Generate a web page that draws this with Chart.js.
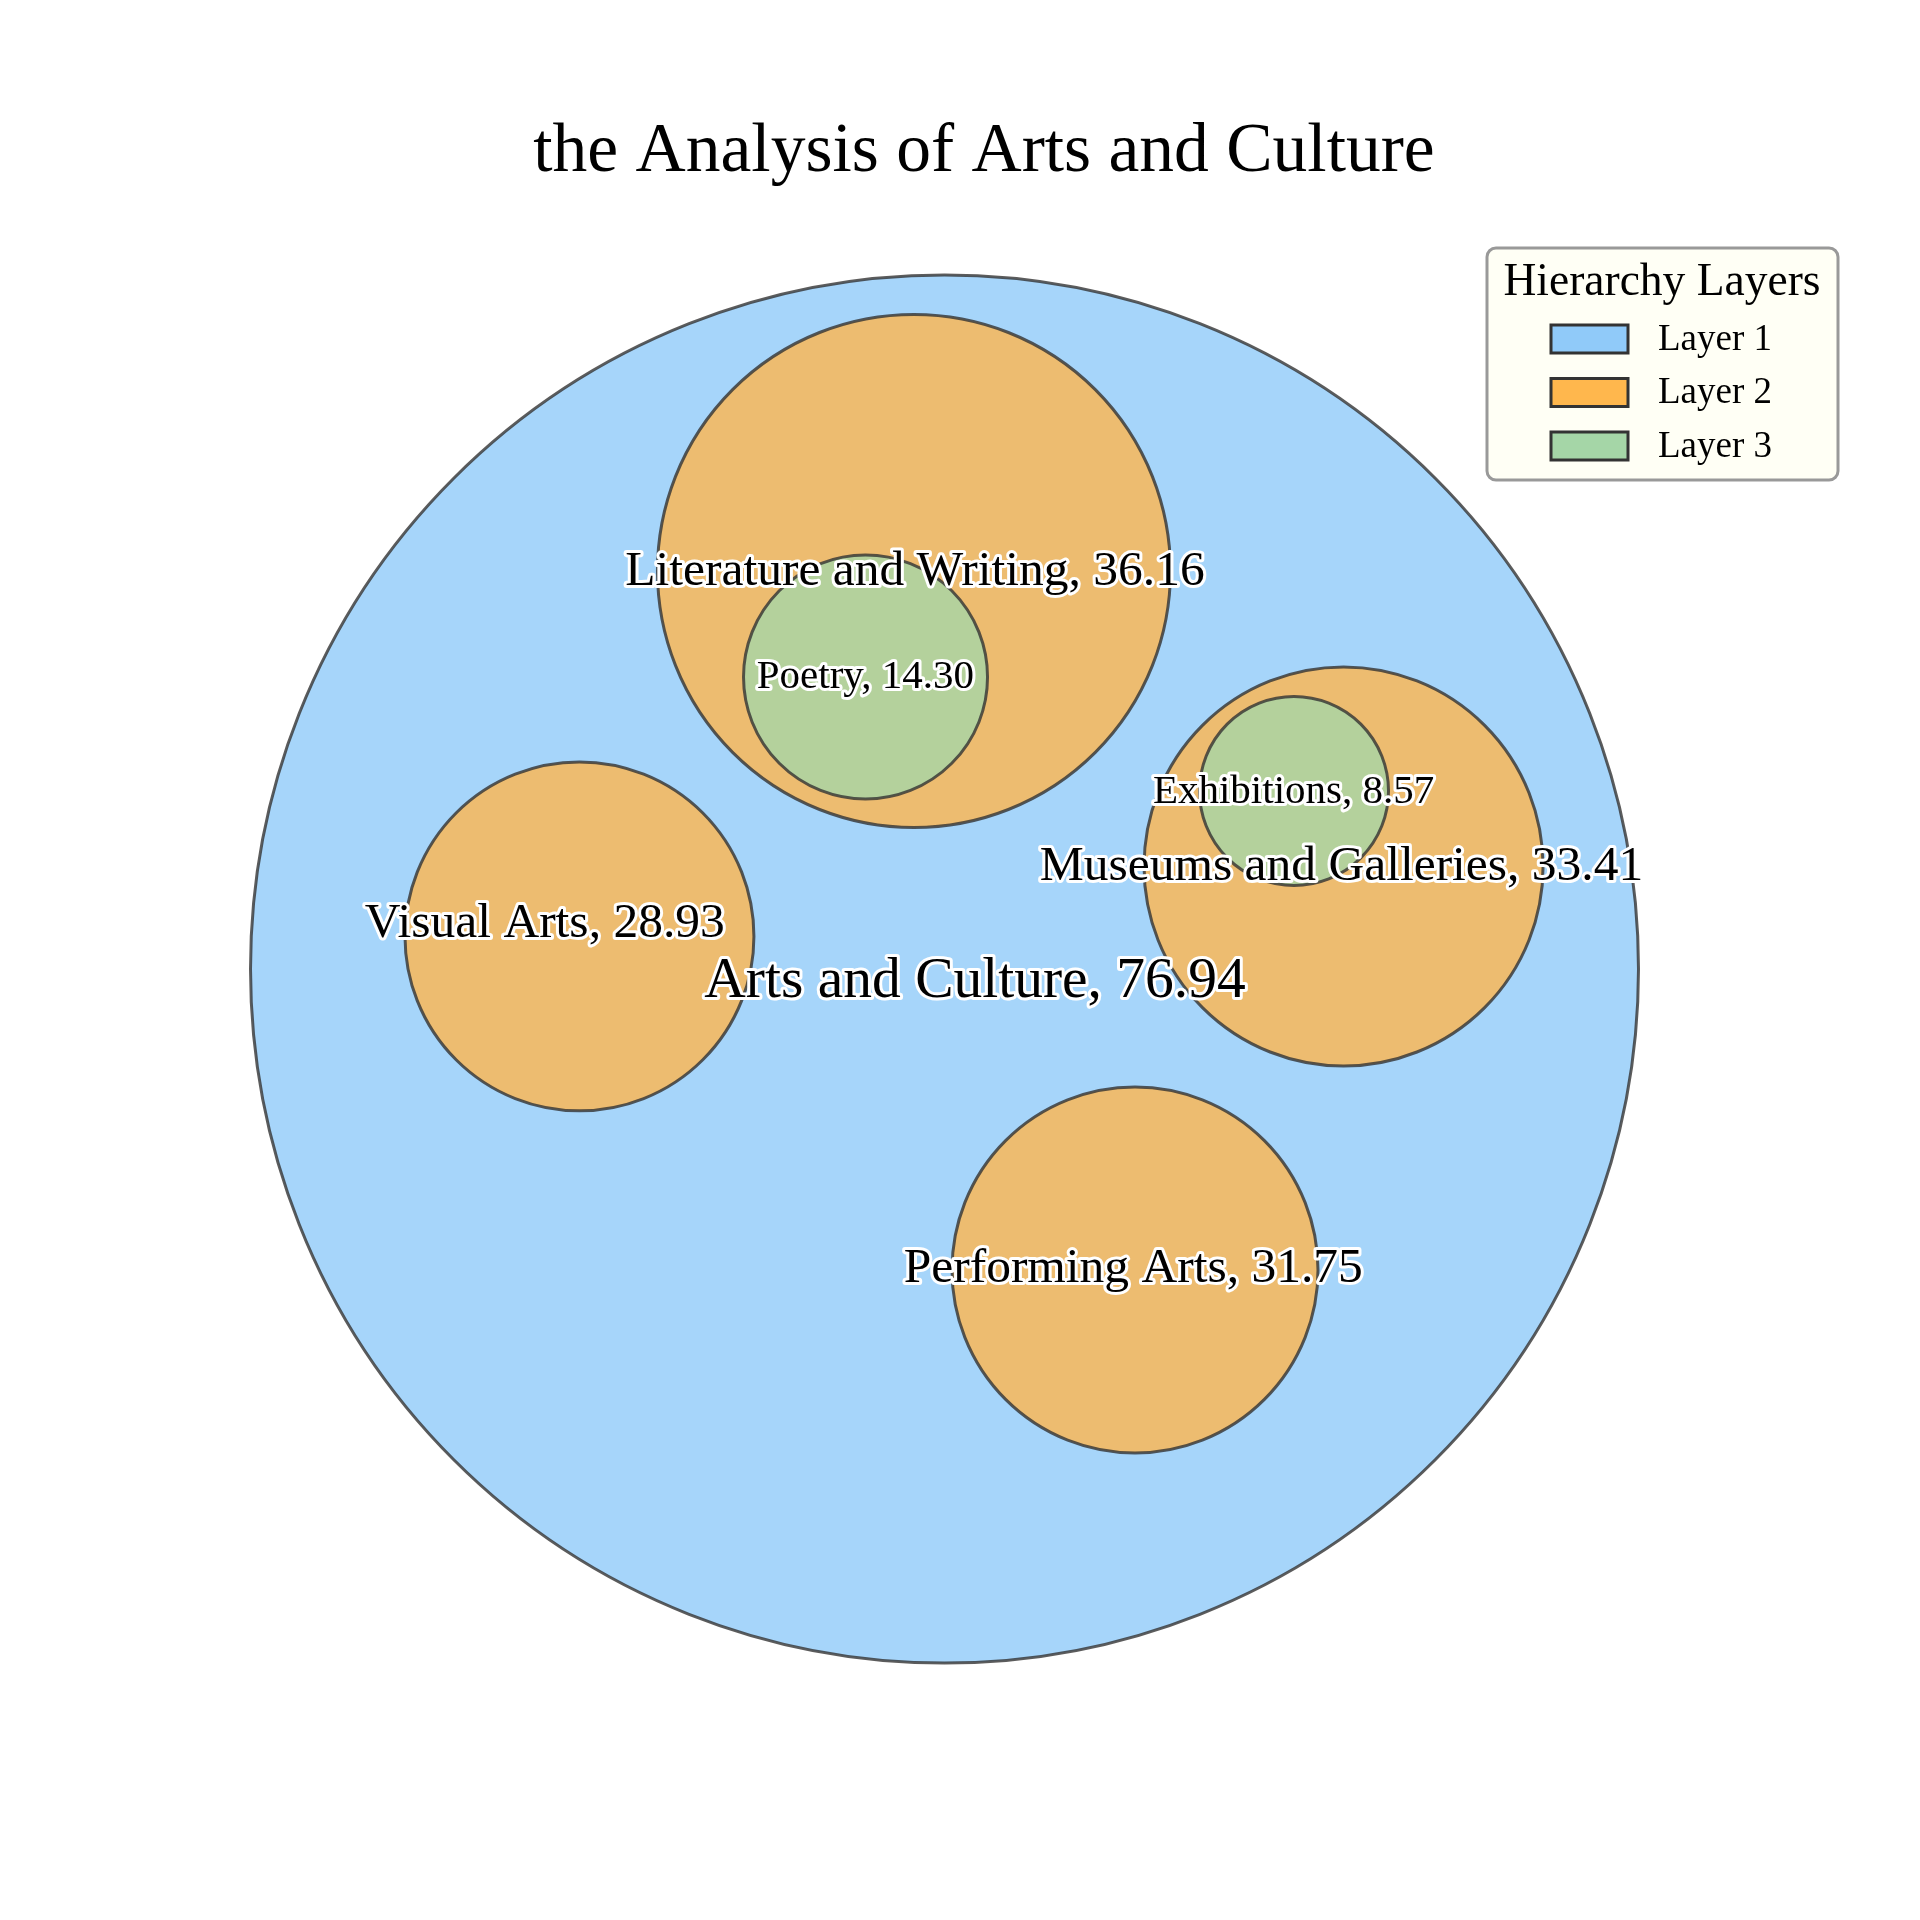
<!DOCTYPE html>
<html>
<head>
<meta charset="utf-8">
<title>the Analysis of Arts and Culture</title>
<script src="https://cdn.jsdelivr.net/npm/chart.js@4/dist/chart.umd.min.js"></script>
<style>
  html, body { margin: 0; padding: 0; background: #ffffff; }
  #wrap { width: 1920px; height: 1920px; }
</style>
</head>
<body>
<div id="wrap"><canvas id="packChart" width="1920" height="1920"></canvas></div>
<script>
// --- data (circle packing, unit = radius of the root circle) ---
const names   = ['Arts and Culture', 'Literature and Writing', 'Visual Arts', 'Museums and Galleries', 'Performing Arts', 'Poetry', 'Exhibitions'];
const values  = [76.94, 36.16, 28.93, 33.41, 31.75, 14.30, 8.57];
const layers  = [1, 2, 2, 2, 2, 3, 3];
const centerX = [0, -0.044, -0.526, 0.575, 0.2745, -0.1138, 0.5036];
const centerY = [0, 0.5735, 0.047, 0.1477, -0.4337, 0.4207, 0.2565];
const radii   = [1, 0.3696, 0.2514, 0.2875, 0.2637, 0.1758, 0.1362];
// where each label sits (same units)
const labelX  = [0.044, -0.0425, -0.576, 0.572, 0.272, -0.114, 0.503];
const labelY  = [-0.0192, 0.5715, 0.0653, 0.1475, -0.4318, 0.4205, 0.255];

const layerNames  = ['Layer 1', 'Layer 2', 'Layer 3'];
const layerColors = ['#90CAF9', '#FFB74D', '#A5D6A7'];
const layerFonts  = [57.5, 49.5, 41];

const SERIF = '"Liberation Serif", "Times New Roman", Times, serif';

function hexA(hex, a) {
    const n = parseInt(hex.slice(1), 16);
    return `rgba(${(n >> 16) & 255}, ${(n >> 8) & 255}, ${n & 255}, ${a})`;
}

// one dataset per layer, deepest layer drawn last (on top)
const datasets = layerNames.map((ln, li) => ({
    label: ln,
    order: 3 - li,
    data: [],
    clip: false,
    backgroundColor: hexA(layerColors[li], 0.8),
    borderColor: 'rgba(51, 51, 51, 0.8)',
    borderWidth: 3,
    hoverBorderWidth: 3
}));

// labels with a white halo, placed through the scales
const labelPlugin = {
    id: 'packLabels',
    afterDatasetsDraw(chart) {
        const { ctx, scales } = chart;
        ctx.save();
        ctx.textAlign = 'center';
        ctx.textBaseline = 'middle';
        ctx.lineJoin = 'round';
        names.forEach((n, i) => {
            const px = scales.x.getPixelForValue(labelX[i]);
            const py = scales.y.getPixelForValue(labelY[i]);
            const txt = `${n}, ${values[i].toFixed(2)}`;
            ctx.font = `${layerFonts[layers[i] - 1]}px ${SERIF}`;
            ctx.strokeStyle = '#ffffff';
            ctx.lineWidth = 6;
            ctx.strokeText(txt, px, py);
            ctx.fillStyle = '#000000';
            ctx.fillText(txt, px, py);
        });
        ctx.restore();
    }
};

// title + legend box
const decorPlugin = {
    id: 'decor',
    afterDraw(chart) {
        const ctx = chart.ctx;
        ctx.save();
        ctx.fillStyle = '#000000';
        ctx.textAlign = 'center';
        ctx.textBaseline = 'alphabetic';
        ctx.font = `69.5px ${SERIF}`;
        ctx.fillText('the Analysis of Arts and Culture', 984, 171);

        // legend
        const bx = 1487, by = 248, bw = 351, bh = 232;
        ctx.beginPath();
        ctx.roundRect(bx, by, bw, bh, 9);
        ctx.fillStyle = '#FFFFF5';
        ctx.fill();
        ctx.lineWidth = 3;
        ctx.strokeStyle = '#999999';
        ctx.stroke();

        ctx.fillStyle = '#000000';
        ctx.font = `45.5px ${SERIF}`;
        ctx.textBaseline = 'middle';
        ctx.fillText('Hierarchy Layers', 1662, 283);

        ctx.textAlign = 'left';
        ctx.font = `37px ${SERIF}`;
        layerNames.forEach((ln, li) => {
            const cy = 339 + li * 53.5;
            ctx.fillStyle = layerColors[li];
            ctx.fillRect(1551, cy - 14, 77, 28);
            ctx.lineWidth = 3;
            ctx.strokeStyle = '#333333';
            ctx.strokeRect(1551, cy - 14, 77, 28);
            ctx.fillStyle = '#000000';
            ctx.fillText(ln, 1658, cy + 1);
        });
        ctx.restore();
    }
};

const chart = new Chart(document.getElementById('packChart').getContext('2d'), {
    type: 'bubble',
    data: { datasets },
    plugins: [labelPlugin, decorPlugin],
    options: {
        responsive: false,
        animation: false,
        events: [],
        layout: { autoPadding: false, padding: { left: 181.1, right: 212.1, top: 205.6, bottom: 187.6 } },
        scales: {
            x: { type: 'linear', min: -1.1, max: 1.1, display: false },
            y: { type: 'linear', min: -1.1, max: 1.1, display: false }
        },
        plugins: {
            legend: { display: false },
            title: { display: false },
            tooltip: { enabled: false }
        }
    }
});

// bubble r is in pixels: convert the data-unit radii through the x scale once it is laid out
const xs = chart.scales.x;
const toPx = v => Math.abs(xs.getPixelForValue(v) - xs.getPixelForValue(0));
chart.data.datasets.forEach((ds, li) => {
    ds.data = names.map((n, i) => i)
        .filter(i => layers[i] === li + 1)
        .map(i => ({ x: centerX[i], y: centerY[i], r: toPx(radii[i]) }));
});
chart.update();
</script>
</body>
</html>
